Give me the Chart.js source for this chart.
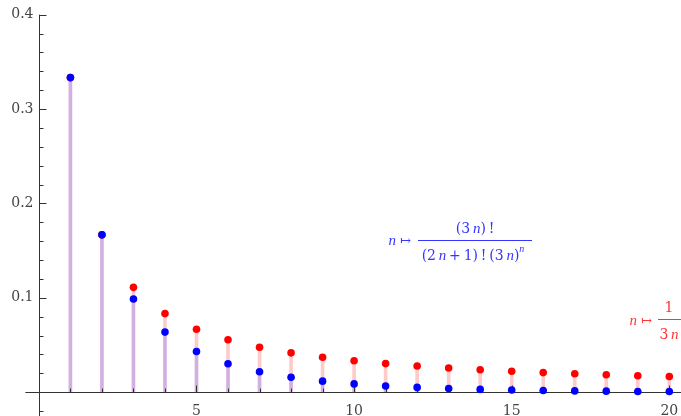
<!DOCTYPE html>
<html>
<head>
<meta charset="utf-8">
<script src="https://cdn.jsdelivr.net/npm/chart.js@4"></script>
<style>
    html, body { margin: 0; padding: 0; background: #fff; }
    canvas { display: block; }
</style>
</head>
<body>
<canvas id="seriesChart" width="681" height="416"></canvas>
<script>
// n values and the two sequences
const nValues = [1, 2, 3, 4, 5, 6, 7, 8, 9, 10, 11, 12, 13, 14, 15, 16, 17, 18, 19, 20];
const redValues = [0.3333, 0.1667, 0.1111, 0.0833, 0.0667, 0.0556, 0.0476, 0.0417, 0.0370, 0.0333,
                   0.0303, 0.0278, 0.0256, 0.0238, 0.0222, 0.0208, 0.0196, 0.0185, 0.0175, 0.0167];
const blueValues = [0.3333, 0.1667, 0.0988, 0.0637, 0.0431, 0.0302, 0.0217, 0.0158, 0.0117, 0.0088,
                    0.0066, 0.0051, 0.0039, 0.0030, 0.0023, 0.0018, 0.0014, 0.0011, 0.0008, 0.0007];

const xMajorTicks = [5, 10, 15, 20];
const xTickLabels = ['5', '10', '15', '20'];
const xMinorTicks = [1, 2, 3, 4, 6, 7, 8, 9, 11, 12, 13, 14, 16, 17, 18, 19];
const yMajorTicks = [0.1, 0.2, 0.3, 0.4];
const yTickLabels = ['0.1', '0.2', '0.3', '0.4'];
const yMinorTicks = [-0.02, 0.02, 0.04, 0.06, 0.08, 0.12, 0.14, 0.16, 0.18, 0.22, 0.24, 0.26, 0.28, 0.32, 0.34, 0.36, 0.38];

// the Liberation Serif here has sans-looking digits, so upright text uses DejaVu Serif
const UPRIGHT = '"DejaVu Serif", serif';
const ITALIC = '"Liberation Serif", serif';

// draws a row of text pieces: [text, italic, size, dy]
function drawRich(ctx, pieces, x, y, size, align) {
    const fontOf = p => `${p[1] ? 'italic ' : ''}${p[2] || size}px ${p[1] ? ITALIC : UPRIGHT}`;
    const widths = pieces.map(p => {
        ctx.font = fontOf(p);
        return ctx.measureText(p[0]).width;
    });
    const total = widths.reduce((a, b) => a + b, 0);
    let cx = align === 'center' ? x - total / 2 : (align === 'right' ? x - total : x);
    ctx.textAlign = 'left';
    pieces.forEach((p, i) => {
        ctx.font = fontOf(p);
        ctx.fillText(p[0], cx, y + (p[3] || 0));
        cx += widths[i];
    });
}

const axesPlugin = {
    id: 'mmaAxes',
    afterDatasetDraw(chart, args) {
        if (args.index !== 1) return;
        const ctx = chart.ctx;
        const xs = chart.scales.x;
        const ys = chart.scales.y;
        const x0 = Math.round(xs.getPixelForValue(0)) + 0.5;
        const y0 = Math.round(ys.getPixelForValue(0)) + 0.5;

        ctx.save();
        ctx.strokeStyle = '#333';
        ctx.lineWidth = 1;

        ctx.beginPath();
        ctx.moveTo(xs.getPixelForValue(-0.43), y0);
        ctx.lineTo(chart.width, y0);
        ctx.moveTo(x0, ys.getPixelForValue(0.4));
        ctx.lineTo(x0, chart.height);

        xMajorTicks.forEach(v => {
            const px = Math.round(xs.getPixelForValue(v)) + 0.5;
            ctx.moveTo(px, y0); ctx.lineTo(px, y0 - 7);
        });
        xMinorTicks.forEach(v => {
            const px = Math.round(xs.getPixelForValue(v)) + 0.5;
            ctx.moveTo(px, y0); ctx.lineTo(px, y0 - 4);
        });
        yMajorTicks.forEach(v => {
            const py = Math.round(ys.getPixelForValue(v)) + 0.5;
            ctx.moveTo(x0, py); ctx.lineTo(x0 + 7, py);
        });
        yMinorTicks.forEach(v => {
            const py = Math.round(ys.getPixelForValue(v)) + 0.5;
            ctx.moveTo(x0, py); ctx.lineTo(x0 + 4, py);
        });
        ctx.stroke();

        ctx.fillStyle = '#444';
        ctx.font = `14px ${UPRIGHT}`;
        ctx.textBaseline = 'middle';
        ctx.textAlign = 'right';
        yMajorTicks.forEach((v, i) => {
            ctx.fillText(yTickLabels[i], x0 - 6, ys.getPixelForValue(v));
        });
        ctx.textAlign = 'center';
        ctx.textBaseline = 'alphabetic';
        xMajorTicks.forEach((v, i) => {
            ctx.fillText(xTickLabels[i], xs.getPixelForValue(v), y0 + 22);
        });
        ctx.restore();
    },
    afterDraw(chart) {
        const ctx = chart.ctx;
        ctx.save();
        ctx.textBaseline = 'alphabetic';

        // blue label: n -> (3n)! / ((2n+1)! (3n)^n)
        ctx.fillStyle = '#3535ff';
        ctx.strokeStyle = '#3535ff';
        drawRich(ctx, [['n', true, 15], [' \u21a6', false, 13]], 411, 245, 14, 'right');
        ctx.beginPath();
        ctx.moveTo(418, 240.5); ctx.lineTo(532, 240.5);
        ctx.lineWidth = 1;
        ctx.stroke();
        drawRich(ctx, [['(3\u2009', false], ['n', true, 15], [')\u2009!', false]], 475, 233, 14, 'center');
        drawRich(ctx, [['(2\u2009', false], ['n', true, 15], ['\u2009+\u20091)\u2009!\u2009(3\u2009', false], ['n', true, 15],
                       [')', false], ['n', true, 10, -8]], 473, 260, 14, 'center');

        // red label: n -> 1 / (3n)
        ctx.fillStyle = '#ff3535';
        ctx.strokeStyle = '#ff3535';
        drawRich(ctx, [['n', true, 15], [' \u21a6', false, 13]], 652, 325, 14, 'right');
        ctx.beginPath();
        ctx.moveTo(658, 319.5); ctx.lineTo(681, 319.5);
        ctx.stroke();
        drawRich(ctx, [['1', false]], 669, 312, 14, 'center');
        drawRich(ctx, [['3\u2009', false], ['n', true, 15]], 669, 339, 14, 'center');
        ctx.restore();
    }
};

const ctx = document.getElementById('seriesChart').getContext('2d');
const seriesChart = new Chart(ctx, {
    type: 'bar',
    data: {
        datasets: [
            {
                label: 'stem common',
                data: nValues.map((n, i) => ({ x: n, y: [0, blueValues[i]] })),
                backgroundColor: '#d3aee0',
                barThickness: 3,
                grouped: false,
                order: 4
            },
            {
                label: 'stem red',
                data: nValues.map((n, i) => ({ x: n, y: [blueValues[i], redValues[i]] })),
                backgroundColor: '#ffcaca',
                barThickness: 3,
                grouped: false,
                order: 3
            },
            {
                type: 'scatter',
                label: '1/(3n)',
                data: nValues.map((n, i) => ({ x: n, y: redValues[i] })),
                backgroundColor: '#ff0000',
                borderWidth: 0,
                pointRadius: 3.8,
                order: 2
            },
            {
                type: 'scatter',
                label: '(3n)!/((2n+1)!(3n)^n)',
                data: nValues.map((n, i) => ({ x: n, y: blueValues[i] })),
                backgroundColor: '#0000ff',
                borderWidth: 0,
                pointRadius: 3.8,
                order: 1
            }
        ]
    },
    options: {
        responsive: false,
        animation: false,
        layout: { padding: 0, autoPadding: false },
        plugins: {
            legend: { display: false },
            tooltip: { enabled: false }
        },
        scales: {
            x: { type: 'linear', min: -1.234, max: 20.371, offset: false, display: false },
            y: { type: 'linear', min: -0.0252, max: 0.4155, display: false }
        }
    },
    plugins: [axesPlugin]
});
</script>
</body>
</html>
